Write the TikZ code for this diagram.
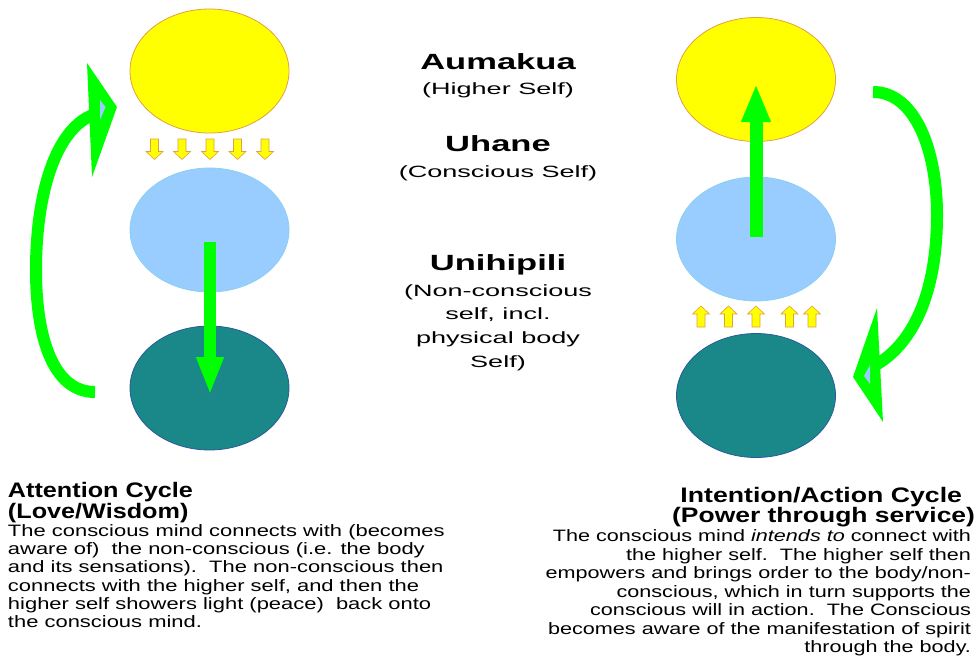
\documentclass[tikz,border=0pt]{standalone}
\usepackage{fontspec}
\setmainfont{Liberation Sans}
\usepackage{graphicx}
\usetikzlibrary{shapes.geometric,arrows.meta}
\definecolor{ylw}{HTML}{FFFF00}
\definecolor{ylwline}{HTML}{E0A040}
\definecolor{lblue}{HTML}{99CCFF}
\definecolor{lblueline}{HTML}{8CD0F0}
\definecolor{teal1}{HTML}{1A8888}
\definecolor{tealline}{HTML}{2A5A9A}
\definecolor{grn}{HTML}{00FF00}
\newcommand\hsc[2]{\scalebox{#1}[1]{#2}}
\tikzset{
  x=1pt, y=-1pt,
  orb/.style={ellipse, minimum width=159pt, minimum height=124pt, inner sep=0pt, line width=0.8pt},
  yorb/.style={orb, fill=ylw, draw=ylwline},
  borb/.style={orb, fill=lblue, draw=lblueline},
  torb/.style={orb, fill=teal1, draw=tealline},
  smallarr/.style={fill=ylw, draw=ylwline, line width=0.6pt, line join=miter},
  bigarrow/.style={draw=grn, line width=12pt, -{Triangle[width=25pt,length=38pt]}},
  curvearrow/.style={draw=grn, line width=12pt},
  headfill/.style={fill=grn},
  innerfill/.style={fill=lblue},
  txt/.style={inner sep=0pt, outer sep=0pt},
}
\begin{document}
\begin{tikzpicture}
\useasboundingbox (0,0) rectangle (976,658);
% ---------- left column ----------
\node[yorb] (ly) at (209.5,71) {};
\node[borb] (lb) at (209.5,230) {};
\node[torb] (lt) at (209.5,388) {};
\foreach \cx in {154.5,182,210,237.5,265}{
  \draw[smallarr] (\cx-4,139) -- (\cx+4,139) -- (\cx+4,151.5) -- (\cx+8.5,151.5) -- (\cx,159.5) -- (\cx-8.5,151.5) -- (\cx-4,151.5) -- cycle;
}
\coordinate (la1) at (210,242);
\coordinate (la2) at (210,395);
\draw[bigarrow] (la1) -- (la2);
% left curved arrow
\coordinate (lc1) at (95,392);
\coordinate (lc2) at (36,270);
\coordinate (lc3) at (95,114);
\draw[curvearrow] (lc1) .. controls (52,392) and (36,335) .. (lc2) .. controls (36,195) and (55,128) .. (lc3);
\fill[headfill] (87,63) -- (117,107) -- (92,177) -- cycle;
\fill[innerfill] (100,100) -- (105.5,107) -- (100,120) -- cycle;
% ---------- right column ----------
\node[yorb] (ry) at (756,79.5) {};
\node[borb] (rb) at (756,239) {};
\node[torb] (rt) at (756,395.5) {};
\foreach \cx in {701,728.5,756,789.5,812}{
  \draw[smallarr] (\cx,306) -- (\cx+8.5,314) -- (\cx+4,314) -- (\cx+4,327) -- (\cx-4,327) -- (\cx-4,314) -- (\cx-8.5,314) -- cycle;
}
\coordinate (ra1) at (756,237);
\coordinate (ra2) at (756,84);
\draw[bigarrow, line width=13pt, -{Triangle[width=27pt,length=38pt]}] (ra1) -- (ra2);
\coordinate (rc1) at (873,92);
\coordinate (rc2) at (937,215);
\coordinate (rc3) at (874,366);
\draw[curvearrow] (rc1) .. controls (915,92) and (937,150) .. (rc2) .. controls (937,295) and (912,345) .. (rc3);
\fill[headfill] (877,308) -- (853,377) -- (883,422) -- cycle;
\fill[innerfill] (870,365) -- (864,376) -- (870,384) -- cycle;
% ---------- centre texts ----------
\node[txt, anchor=base] (t1) at (498,70) {\fontsize{22}{24}\selectfont\bfseries\hsc{1.57}{Aumakua}};
\node[txt, anchor=base] (t2) at (498,95) {\fontsize{16.3}{20}\selectfont\hsc{1.66}{(Higher Self)}};
\node[txt, anchor=base] (t3) at (498,151.5) {\fontsize{22}{24}\selectfont\bfseries\hsc{1.57}{Uhane}};
\node[txt, anchor=base] (t4) at (498,177.5) {\fontsize{16.3}{20}\selectfont\hsc{1.66}{(Conscious Self)}};
\node[txt, anchor=base] (t5) at (498,270.5) {\fontsize{22}{24}\selectfont\bfseries\hsc{1.57}{Unihipili}};
\node[txt, anchor=base] (t6) at (498,296) {\fontsize{16.3}{23.8}\selectfont\hsc{1.66}{\begin{tabular}[t]{@{}c@{}}(Non-conscious\\ self, incl.\\ physical body\\ Self)\end{tabular}}};
% ---------- left description ----------
\node[txt, anchor=base west] (lh) at (8,497) {\fontsize{21}{19.8}\selectfont\bfseries\hsc{1.2}{\begin{tabular}[t]{@{}l@{}}Attention Cycle\\ (Love/Wisdom)\end{tabular}}};
\node[txt, anchor=base west] (ld) at (8,536.5) {\fontsize{16.5}{18.2}\selectfont\hsc{1.33}{\begin{tabular}[t]{@{}l@{}}The conscious mind connects with (becomes\\ aware of)\ \ the non-conscious (i.e. the body\\ and its sensations).\ \ The non-conscious then\\ connects with the higher self, and then the\\ higher self showers light (peace)\ \ back onto\\ the conscious mind.\end{tabular}}};
% ---------- right description ----------
\node[txt, anchor=base east] (rh1) at (962,502.5) {\fontsize{21}{20}\selectfont\bfseries\hsc{1.27}{Intention/Action Cycle}};
\node[txt, anchor=base east] (rh2) at (975,522) {\fontsize{21}{20}\selectfont\bfseries\hsc{1.26}{(Power through service)}};
\node[txt, anchor=base east] (rd) at (971,541.5) {\fontsize{16.5}{18.5}\selectfont\hsc{1.31}{\begin{tabular}[t]{@{}r@{}}The conscious mind \textit{intends to} connect with\\ the higher self.\ \ The higher self then\\ empowers and brings order to the body/non-\\ conscious, which in turn supports the\\ conscious will in action.\ \ The Conscious\\ becomes aware of the manifestation of spirit\\ through the body.\end{tabular}}};
\end{tikzpicture}
\end{document}
